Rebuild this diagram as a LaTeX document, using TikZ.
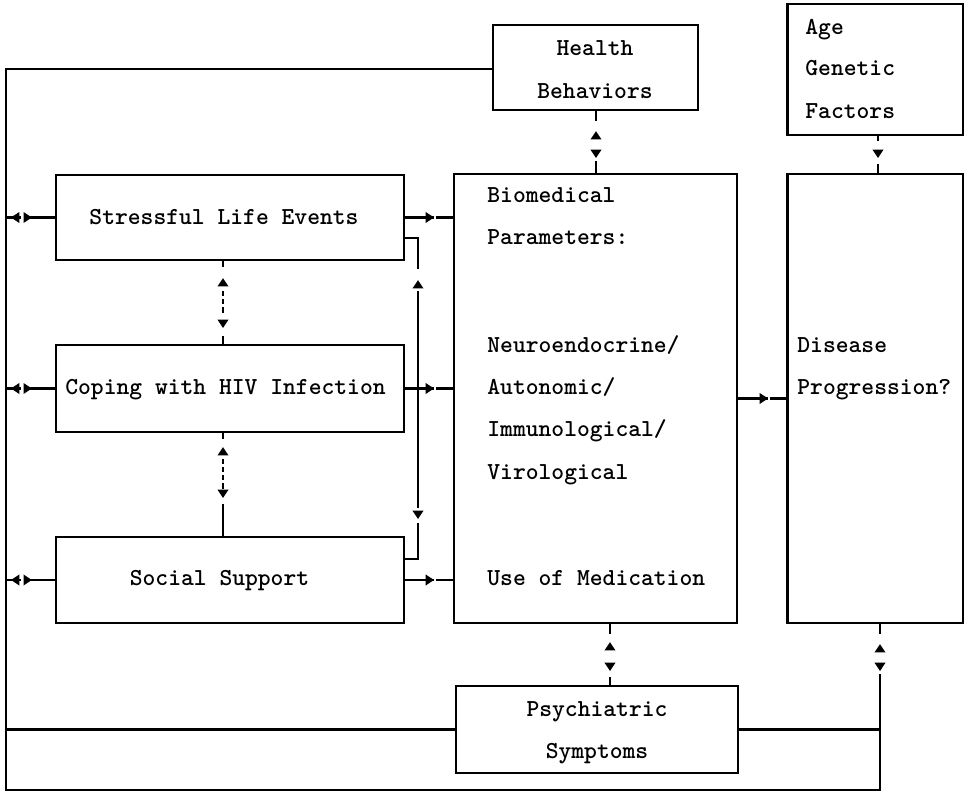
\documentclass[tikz,border=0pt]{standalone}
\usepackage{fontspec}
\newfontfamily\courb{lmmonolt10-bold.otf}
\usetikzlibrary{arrows.meta,decorations.markings}
\begin{document}
\begin{tikzpicture}[x=0.5pt,y=-0.5pt,
  box/.style={draw,line width=1.1pt,inner sep=0pt},
  tx/.style={inner sep=0pt,font=\fontsize{12.2}{14}\selectfont\courb,text height=8pt,text depth=2.4pt},
  lnk/.style={line width=1.1pt},
  tri/.tip={Triangle[length=4.2pt,width=5.2pt]},
  fw/.style={postaction={decorate,decoration={markings,mark=at position #1 with {\arrow{tri}}}}},
  bw/.style={postaction={decorate,decoration={markings,mark=at position #1 with {\arrowreversed{tri}}}}}]
\useasboundingbox (0,0) rectangle (970,795);

% boxes
\node[box,minimum width=102.5pt,minimum height=42.5pt] (health) at (595.5,67.5) {};
\node[box,minimum width=87.75pt,minimum height=65.5pt] (age) at (875.25,69.5) {};
\node[box,minimum width=174pt,minimum height=42.5pt] (stress) at (230,217.5) {};
\node[box,minimum width=174pt,minimum height=43.5pt] (coping) at (230,388.5) {};
\node[box,minimum width=174pt,minimum height=43pt] (social) at (230,580) {};
\node[box,minimum width=141.5pt,minimum height=224.5pt] (biomed) at (595.5,398.5) {};
\node[box,minimum width=87.75pt,minimum height=224.5pt] (disease) at (875.25,398.5) {};
\node[box,minimum width=141pt,minimum height=43.5pt] (psych) at (597,729.5) {};

% texts
\node[tx] (tHealth) at (595,50) {Health};
\node[tx] (tBehav) at (595,93) {Behaviors};
\node[tx,anchor=west] (tAge) at (805,29) {Age};
\node[tx,anchor=west] (tGen) at (805,70) {Genetic};
\node[tx,anchor=west] (tFac) at (805,113) {Factors};
\node[tx] (tStress) at (224,219) {Stressful Life Events};
\node[tx] (tCoping) at (225.5,389) {Coping with HIV Infection};
\node[tx] (tSocial) at (219.5,580) {Social Support};
\node[tx,anchor=west] (tB1) at (487,197) {Biomedical};
\node[tx,anchor=west] (tB2) at (487,239) {Parameters:};
\node[tx,anchor=west] (tB3) at (487,347) {Neuroendocrine/};
\node[tx,anchor=west] (tB4) at (487,389) {Autonomic/};
\node[tx,anchor=west] (tB5) at (487,431) {Immunological/};
\node[tx,anchor=west] (tB6) at (487,474) {Virological};
\node[tx,anchor=west] (tB7) at (487,580) {Use of Medication};
\node[tx,anchor=west] (tD1) at (797,347) {Disease};
\node[tx,anchor=west] (tD2) at (797,389) {Progression?};
\node[tx] (tP1) at (597,711) {Psychiatric};
\node[tx] (tP2) at (597,753) {Symptoms};

% helper coordinates
\coordinate (L) at (6,0);
\coordinate (X) at (880,0);
\coordinate (vA) at (223,0);
\coordinate (vH) at (596,0);
\coordinate (vG) at (878,0);
\coordinate (vP) at (610,0);
\coordinate (TL) at (6,69);
\coordinate (BL) at (6,790);
\coordinate (BR) at (880,790);
\coordinate (br1) at (418,238);
\coordinate (br2) at (418,559);

% outer feedback loop
\draw[lnk,dash pattern=on 5pt off 20pt on 2000pt,bw=10pt,fw=23.5pt]
  (disease.south -| X) -- (BR) -- (BL) -- (TL) -- (health.west |- TL);
\draw[lnk] (L |- psych.west) -- (psych.west);
\draw[lnk] (psych.east) -- (psych.east -| X);

% left double arrows
\foreach \b in {stress,coping,social}
  \draw[lnk,dash pattern=on 14pt off 3pt on 8pt,bw=11.5pt,fw=22pt]
    (\b.west) -- (\b.west -| L);

% boxes to biomedical
\foreach \b in {stress,coping,social}
  \draw[lnk,dash pattern=on 14.5pt off 0.8pt on 20pt,fw=14.5pt]
    (\b.east) -- (\b.east -| biomed.west);
\draw[lnk,dash pattern=on 15pt off 0.8pt on 20pt,fw=15pt]
  (biomed.east |- disease.center) -- (disease.west |- disease.center);

% vertical double arrows
\draw[lnk,dash pattern=on 3pt off 12pt on 2.5pt off 1.5pt on 2.5pt off 1.5pt on 3pt off 11.5pt on 5pt,bw=8.5pt,fw=33.5pt]
  (stress.south -| vA) -- (coping.north -| vA);
\draw[lnk,dash pattern=on 3pt off 10pt on 2.5pt off 1.5pt on 2.5pt off 1.5pt on 2.5pt off 1.5pt on 3pt off 7.5pt on 17pt,bw=7pt,fw=32.5pt]
  (coping.south -| vA) -- (social.north -| vA);
\draw[lnk,dash pattern=on 5pt off 20pt on 7pt,bw=10pt,fw=23.5pt]
  (health.south -| vH) -- (biomed.north -| vH);
\draw[lnk,dash pattern=on 2.5pt off 11.5pt on 5.5pt,fw=11pt]
  (age.south -| vG) -- (disease.north -| vG);
\draw[lnk,dash pattern=on 5pt off 21.5pt on 5pt,bw=9pt,fw=23.5pt]
  (biomed.south -| vP) -- (psych.north -| vP);

% bracket stress - social
\draw[lnk,dash pattern=on 22pt off 11pt on 108.5pt off 7.5pt on 25.5pt,bw=27.5pt,fw=147pt]
  (stress.east |- br1) -- (br1) -- (br2) -- (social.east |- br2);
\end{tikzpicture}
\end{document}
